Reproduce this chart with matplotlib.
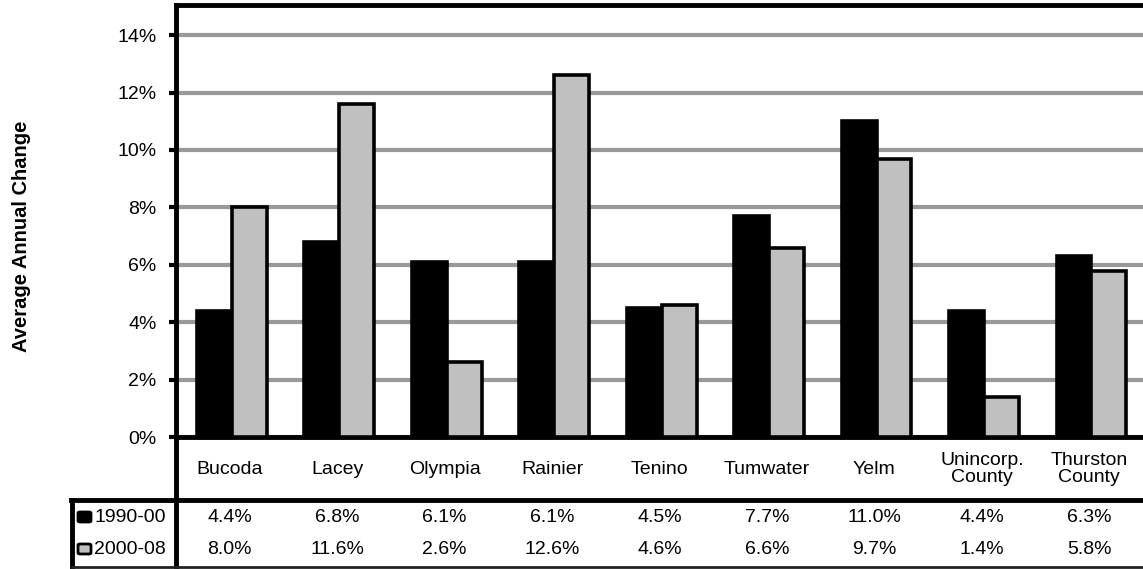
import matplotlib
matplotlib.use("Agg")
import matplotlib.pyplot as plt
from matplotlib.patches import FancyBboxPatch
from matplotlib.lines import Line2D
import numpy as np

plt.rcParams['font.family'] = ['Liberation Sans', 'DejaVu Sans']

categories = ["Bucoda", "Lacey", "Olympia", "Rainier", "Tenino", "Tumwater",
              "Yelm", "Unincorp.\nCounty", "Thurston\nCounty"]
series_names = ["1990-00", "2000-08"]
values_1990_00 = [4.4, 6.8, 6.1, 6.1, 4.5, 7.7, 11.0, 4.4, 6.3]
values_2000_08 = [8.0, 11.6, 2.6, 12.6, 4.6, 6.6, 9.7, 1.4, 5.8]
yticks = [0, 2, 4, 6, 8, 10, 12, 14]

W, H = 1143, 569
FS = 14
fig = plt.figure(figsize=(W / 100, H / 100), dpi=100)

# plot area in pixel coordinates
x0, x1 = 176, 1143
y_top, y_base = 5, 437
ax = fig.add_axes([x0 / W, 1 - y_base / H, (x1 - x0) / W, (y_base - y_top) / H])

n = len(categories)
x = np.arange(n)
bw = 0.325
ax.bar(x - bw / 2 + 0.02, values_1990_00, bw, color="black", edgecolor="black",
       linewidth=2.6, zorder=3)
ax.bar(x + bw / 2 + 0.02, values_2000_08, bw, color="#c0c0c0", edgecolor="black",
       linewidth=2.6, zorder=3)

ax.set_xlim(-0.5, n - 0.5)
ax.set_ylim(0, 15.05)
ax.set_yticks(yticks)
ax.set_yticklabels([f"{t}%" for t in yticks], fontsize=FS)
ax.yaxis.grid(True, color="#999999", linewidth=3, zorder=0)
ax.set_xticks([])
ax.tick_params(axis='y', length=5, width=3, direction='out', pad=9)
ax.spines["right"].set_visible(False)
for s in ["left", "top", "bottom"]:
    ax.spines[s].set_linewidth(3.5)

fig.text(22 / W, 1 - 236 / H, "Average Annual Change", rotation=90,
         fontsize=FS + 0.5, fontweight="bold", ha="center", va="center")

# data table below the plot
def fy(py):
    return 1 - py / H

def fx(px):
    return px / W

fig.add_artist(Line2D([fx(176), fx(176)], [fy(437), fy(566)], color="black",
                      linewidth=3.5, transform=fig.transFigure))
fig.add_artist(Line2D([fx(71), fx(1143)], [fy(500), fy(500)], color="black",
                      linewidth=3.5, transform=fig.transFigure))
fig.add_artist(Line2D([fx(72), fx(72)], [fy(500), fy(567)], color="black",
                      linewidth=3.5, transform=fig.transFigure))
fig.add_artist(Line2D([fx(72), fx(1143)], [fy(566.5), fy(566.5)], color="#222222",
                      linewidth=2, transform=fig.transFigure))

cat_w = (x1 - x0) / n
row_y = [517, 549]
for i, c in enumerate(categories):
    cx = x0 + cat_w * (i + 0.5)
    fig.text(fx(cx), fy(469), c, ha="center", va="center", fontsize=FS,
             linespacing=0.95)
    fig.text(fx(cx), fy(row_y[0]), f"{values_1990_00[i]:.1f}%", ha="center",
             va="center", fontsize=FS)
    fig.text(fx(cx), fy(row_y[1]), f"{values_2000_08[i]:.1f}%", ha="center",
             va="center", fontsize=FS)

key_colors = ["black", "#c0c0c0"]
for j, name in enumerate(series_names):
    cy = row_y[j]
    box = FancyBboxPatch((fx(78), fy(cy + 5)), fx(13), 10 / H,
                         boxstyle="round,pad=0,rounding_size=0.002",
                         facecolor=key_colors[j], edgecolor="black", linewidth=2,
                         transform=fig.transFigure)
    fig.add_artist(box)
    fig.text(fx(94), fy(cy), name, ha="left", va="center", fontsize=FS)

fig.savefig("out.png", dpi=100)
